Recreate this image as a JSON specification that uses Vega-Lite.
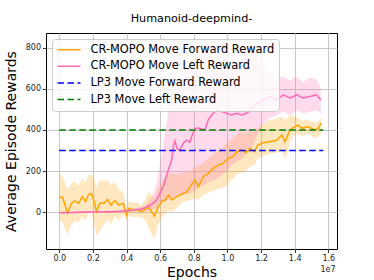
{
  "$schema": "https://vega.github.io/schema/vega-lite/v6.json",
  "autosize": {"type": "none"},
  "padding": {"left": 46, "top": 33, "right": 37, "bottom": 31},
  "width": 291,
  "height": 216,
  "background": "white",
  "config": {
    "font": "DejaVu Sans",
    "view": {"stroke": "#000000", "strokeWidth": 1},
    "axis": {
      "domain": false,
      "grid": true,
      "gridColor": "#c8c8c8",
      "gridWidth": 1,
      "tickColor": "#000000",
      "tickSize": 3.5,
      "tickWidth": 0.8,
      "labelFont": "DejaVu Sans",
      "labelFontSize": 8,
      "labelColor": "#222222",
      "titleFont": "DejaVu Sans",
      "titleFontSize": 14,
      "titleFontWeight": "normal",
      "titleColor": "#000000"
    }
  },
  "title": {
    "text": "Humanoid-deepmind-",
    "font": "DejaVu Sans",
    "fontSize": 11.2,
    "fontWeight": "normal",
    "color": "#000000",
    "offset": 9
  },
  "data": {
    "values": [
      {"series": "CR-MOPO Move Forward Reward", "x": 0, "mean": 73, "lo": -40, "hi": 190},
      {"series": "CR-MOPO Move Forward Reward", "x": 200000, "mean": 73, "lo": -50, "hi": 170},
      {"series": "CR-MOPO Move Forward Reward", "x": 490000, "mean": -5, "lo": -110, "hi": 110},
      {"series": "CR-MOPO Move Forward Reward", "x": 720000, "mean": 44, "lo": -60, "hi": 140},
      {"series": "CR-MOPO Move Forward Reward", "x": 920000, "mean": 56, "lo": -40, "hi": 150},
      {"series": "CR-MOPO Move Forward Reward", "x": 1150000, "mean": 44, "lo": -50, "hi": 130},
      {"series": "CR-MOPO Move Forward Reward", "x": 1360000, "mean": 76, "lo": -20, "hi": 165},
      {"series": "CR-MOPO Move Forward Reward", "x": 1560000, "mean": 52, "lo": -40, "hi": 140},
      {"series": "CR-MOPO Move Forward Reward", "x": 1720000, "mean": 84, "lo": -10, "hi": 180},
      {"series": "CR-MOPO Move Forward Reward", "x": 1910000, "mean": 92, "lo": 0, "hi": 185},
      {"series": "CR-MOPO Move Forward Reward", "x": 2060000, "mean": 57, "lo": -60, "hi": 170},
      {"series": "CR-MOPO Move Forward Reward", "x": 2210000, "mean": 3, "lo": -110, "hi": 120},
      {"series": "CR-MOPO Move Forward Reward", "x": 2410000, "mean": 44, "lo": -90, "hi": 160},
      {"series": "CR-MOPO Move Forward Reward", "x": 2670000, "mean": 44, "lo": -60, "hi": 150},
      {"series": "CR-MOPO Move Forward Reward", "x": 2870000, "mean": 63, "lo": -30, "hi": 160},
      {"series": "CR-MOPO Move Forward Reward", "x": 3070000, "mean": 35, "lo": -60, "hi": 130},
      {"series": "CR-MOPO Move Forward Reward", "x": 3310000, "mean": 57, "lo": -20, "hi": 150},
      {"series": "CR-MOPO Move Forward Reward", "x": 3550000, "mean": 35, "lo": -40, "hi": 110},
      {"series": "CR-MOPO Move Forward Reward", "x": 3800000, "mean": 44, "lo": -10, "hi": 100},
      {"series": "CR-MOPO Move Forward Reward", "x": 4000000, "mean": -13, "lo": -40, "hi": 20},
      {"series": "CR-MOPO Move Forward Reward", "x": 4140000, "mean": 19, "lo": -15, "hi": 55},
      {"series": "CR-MOPO Move Forward Reward", "x": 4400000, "mean": 11, "lo": -25, "hi": 45},
      {"series": "CR-MOPO Move Forward Reward", "x": 4660000, "mean": 14, "lo": -20, "hi": 50},
      {"series": "CR-MOPO Move Forward Reward", "x": 4860000, "mean": 3, "lo": -25, "hi": 30},
      {"series": "CR-MOPO Move Forward Reward", "x": 5090000, "mean": 14, "lo": -35, "hi": 60},
      {"series": "CR-MOPO Move Forward Reward", "x": 5330000, "mean": 24, "lo": -80, "hi": 100},
      {"series": "CR-MOPO Move Forward Reward", "x": 5650000, "mean": -18, "lo": -130, "hi": 70},
      {"series": "CR-MOPO Move Forward Reward", "x": 5880000, "mean": 25, "lo": -60, "hi": 120},
      {"series": "CR-MOPO Move Forward Reward", "x": 6120000, "mean": 55, "lo": -20, "hi": 150},
      {"series": "CR-MOPO Move Forward Reward", "x": 6300000, "mean": 60, "lo": -10, "hi": 170},
      {"series": "CR-MOPO Move Forward Reward", "x": 6480000, "mean": 84, "lo": 10, "hi": 190},
      {"series": "CR-MOPO Move Forward Reward", "x": 6680000, "mean": 60, "lo": 0, "hi": 190},
      {"series": "CR-MOPO Move Forward Reward", "x": 6980000, "mean": 76, "lo": 20, "hi": 185},
      {"series": "CR-MOPO Move Forward Reward", "x": 7200000, "mean": 85, "lo": 40, "hi": 190},
      {"series": "CR-MOPO Move Forward Reward", "x": 7370000, "mean": 92, "lo": 50, "hi": 195},
      {"series": "CR-MOPO Move Forward Reward", "x": 7600000, "mean": 100, "lo": 55, "hi": 195},
      {"series": "CR-MOPO Move Forward Reward", "x": 7770000, "mean": 124, "lo": 60, "hi": 200},
      {"series": "CR-MOPO Move Forward Reward", "x": 8070000, "mean": 157, "lo": 70, "hi": 220},
      {"series": "CR-MOPO Move Forward Reward", "x": 8270000, "mean": 124, "lo": 60, "hi": 225},
      {"series": "CR-MOPO Move Forward Reward", "x": 8560000, "mean": 173, "lo": 85, "hi": 240},
      {"series": "CR-MOPO Move Forward Reward", "x": 8860000, "mean": 189, "lo": 95, "hi": 260},
      {"series": "CR-MOPO Move Forward Reward", "x": 9150000, "mean": 214, "lo": 105, "hi": 280},
      {"series": "CR-MOPO Move Forward Reward", "x": 9450000, "mean": 230, "lo": 115, "hi": 300},
      {"series": "CR-MOPO Move Forward Reward", "x": 9750000, "mean": 238, "lo": 120, "hi": 320},
      {"series": "CR-MOPO Move Forward Reward", "x": 10050000, "mean": 262, "lo": 140, "hi": 345},
      {"series": "CR-MOPO Move Forward Reward", "x": 10340000, "mean": 271, "lo": 165, "hi": 360},
      {"series": "CR-MOPO Move Forward Reward", "x": 10580000, "mean": 295, "lo": 185, "hi": 380},
      {"series": "CR-MOPO Move Forward Reward", "x": 10850000, "mean": 303, "lo": 195, "hi": 390},
      {"series": "CR-MOPO Move Forward Reward", "x": 11100000, "mean": 290, "lo": 200, "hi": 385},
      {"series": "CR-MOPO Move Forward Reward", "x": 11340000, "mean": 311, "lo": 222, "hi": 395},
      {"series": "CR-MOPO Move Forward Reward", "x": 11600000, "mean": 294, "lo": 230, "hi": 390},
      {"series": "CR-MOPO Move Forward Reward", "x": 11800000, "mean": 327, "lo": 260, "hi": 410},
      {"series": "CR-MOPO Move Forward Reward", "x": 12130000, "mean": 338, "lo": 275, "hi": 430},
      {"series": "CR-MOPO Move Forward Reward", "x": 12530000, "mean": 343, "lo": 285, "hi": 450},
      {"series": "CR-MOPO Move Forward Reward", "x": 12930000, "mean": 351, "lo": 290, "hi": 455},
      {"series": "CR-MOPO Move Forward Reward", "x": 13230000, "mean": 376, "lo": 300, "hi": 465},
      {"series": "CR-MOPO Move Forward Reward", "x": 13420000, "mean": 343, "lo": 255, "hi": 450},
      {"series": "CR-MOPO Move Forward Reward", "x": 13720000, "mean": 400, "lo": 340, "hi": 470},
      {"series": "CR-MOPO Move Forward Reward", "x": 14020000, "mean": 416, "lo": 380, "hi": 465},
      {"series": "CR-MOPO Move Forward Reward", "x": 14200000, "mean": 424, "lo": 380, "hi": 460},
      {"series": "CR-MOPO Move Forward Reward", "x": 14420000, "mean": 408, "lo": 370, "hi": 445},
      {"series": "CR-MOPO Move Forward Reward", "x": 14800000, "mean": 416, "lo": 380, "hi": 450},
      {"series": "CR-MOPO Move Forward Reward", "x": 15000000, "mean": 408, "lo": 370, "hi": 440},
      {"series": "CR-MOPO Move Forward Reward", "x": 15200000, "mean": 400, "lo": 360, "hi": 435},
      {"series": "CR-MOPO Move Forward Reward", "x": 15400000, "mean": 408, "lo": 370, "hi": 440},
      {"series": "CR-MOPO Move Forward Reward", "x": 15570000, "mean": 433, "lo": 380, "hi": 460},

      {"series": "CR-MOPO Move Left Reward", "x": 0, "mean": -2, "lo": -6, "hi": 2},
      {"series": "CR-MOPO Move Left Reward", "x": 500000, "mean": -1, "lo": -5, "hi": 3},
      {"series": "CR-MOPO Move Left Reward", "x": 1000000, "mean": 0, "lo": -4, "hi": 4},
      {"series": "CR-MOPO Move Left Reward", "x": 1500000, "mean": 1, "lo": -3, "hi": 5},
      {"series": "CR-MOPO Move Left Reward", "x": 2000000, "mean": 2, "lo": -2, "hi": 6},
      {"series": "CR-MOPO Move Left Reward", "x": 2500000, "mean": 3, "lo": -1, "hi": 7},
      {"series": "CR-MOPO Move Left Reward", "x": 3000000, "mean": 3, "lo": -1, "hi": 8},
      {"series": "CR-MOPO Move Left Reward", "x": 3500000, "mean": 4, "lo": 0, "hi": 9},
      {"series": "CR-MOPO Move Left Reward", "x": 4000000, "mean": 8, "lo": 2, "hi": 14},
      {"series": "CR-MOPO Move Left Reward", "x": 4500000, "mean": 12, "lo": 4, "hi": 20},
      {"series": "CR-MOPO Move Left Reward", "x": 4800000, "mean": 15, "lo": 5, "hi": 26},
      {"series": "CR-MOPO Move Left Reward", "x": 5100000, "mean": 22, "lo": 8, "hi": 36},
      {"series": "CR-MOPO Move Left Reward", "x": 5400000, "mean": 35, "lo": 12, "hi": 60},
      {"series": "CR-MOPO Move Left Reward", "x": 5600000, "mean": 45, "lo": 15, "hi": 90},
      {"series": "CR-MOPO Move Left Reward", "x": 5780000, "mean": 58, "lo": 20, "hi": 140},
      {"series": "CR-MOPO Move Left Reward", "x": 6000000, "mean": 95, "lo": 40, "hi": 240},
      {"series": "CR-MOPO Move Left Reward", "x": 6180000, "mean": 124, "lo": 50, "hi": 330},
      {"series": "CR-MOPO Move Left Reward", "x": 6350000, "mean": 170, "lo": 55, "hi": 420},
      {"series": "CR-MOPO Move Left Reward", "x": 6480000, "mean": 205, "lo": 60, "hi": 480},
      {"series": "CR-MOPO Move Left Reward", "x": 6600000, "mean": 235, "lo": 65, "hi": 530},
      {"series": "CR-MOPO Move Left Reward", "x": 6680000, "mean": 254, "lo": 68, "hi": 560},
      {"series": "CR-MOPO Move Left Reward", "x": 6780000, "mean": 320, "lo": 72, "hi": 590},
      {"series": "CR-MOPO Move Left Reward", "x": 6880000, "mean": 347, "lo": 75, "hi": 610},
      {"series": "CR-MOPO Move Left Reward", "x": 7000000, "mean": 310, "lo": 78, "hi": 630},
      {"series": "CR-MOPO Move Left Reward", "x": 7170000, "mean": 302, "lo": 82, "hi": 650},
      {"series": "CR-MOPO Move Left Reward", "x": 7370000, "mean": 335, "lo": 86, "hi": 670},
      {"series": "CR-MOPO Move Left Reward", "x": 7570000, "mean": 351, "lo": 90, "hi": 700},
      {"series": "CR-MOPO Move Left Reward", "x": 7760000, "mean": 340, "lo": 93, "hi": 720},
      {"series": "CR-MOPO Move Left Reward", "x": 7870000, "mean": 367, "lo": 98, "hi": 735},
      {"series": "CR-MOPO Move Left Reward", "x": 8070000, "mean": 408, "lo": 105, "hi": 760},
      {"series": "CR-MOPO Move Left Reward", "x": 8360000, "mean": 408, "lo": 124, "hi": 785},
      {"series": "CR-MOPO Move Left Reward", "x": 8660000, "mean": 400, "lo": 137, "hi": 800},
      {"series": "CR-MOPO Move Left Reward", "x": 8860000, "mean": 449, "lo": 145, "hi": 790},
      {"series": "CR-MOPO Move Left Reward", "x": 9060000, "mean": 473, "lo": 152, "hi": 760},
      {"series": "CR-MOPO Move Left Reward", "x": 9360000, "mean": 498, "lo": 162, "hi": 730},
      {"series": "CR-MOPO Move Left Reward", "x": 9650000, "mean": 490, "lo": 180, "hi": 715},
      {"series": "CR-MOPO Move Left Reward", "x": 9950000, "mean": 481, "lo": 200, "hi": 705},
      {"series": "CR-MOPO Move Left Reward", "x": 10250000, "mean": 473, "lo": 228, "hi": 705},
      {"series": "CR-MOPO Move Left Reward", "x": 10550000, "mean": 481, "lo": 245, "hi": 720},
      {"series": "CR-MOPO Move Left Reward", "x": 10850000, "mean": 473, "lo": 262, "hi": 750},
      {"series": "CR-MOPO Move Left Reward", "x": 11140000, "mean": 481, "lo": 285, "hi": 790},
      {"series": "CR-MOPO Move Left Reward", "x": 11400000, "mean": 498, "lo": 305, "hi": 815},
      {"series": "CR-MOPO Move Left Reward", "x": 11740000, "mean": 530, "lo": 370, "hi": 770},
      {"series": "CR-MOPO Move Left Reward", "x": 12130000, "mean": 546, "lo": 430, "hi": 720},
      {"series": "CR-MOPO Move Left Reward", "x": 12530000, "mean": 563, "lo": 460, "hi": 675},
      {"series": "CR-MOPO Move Left Reward", "x": 12930000, "mean": 546, "lo": 470, "hi": 650},
      {"series": "CR-MOPO Move Left Reward", "x": 13320000, "mean": 571, "lo": 490, "hi": 660},
      {"series": "CR-MOPO Move Left Reward", "x": 13720000, "mean": 555, "lo": 470, "hi": 640},
      {"series": "CR-MOPO Move Left Reward", "x": 14120000, "mean": 571, "lo": 495, "hi": 660},
      {"series": "CR-MOPO Move Left Reward", "x": 14500000, "mean": 555, "lo": 480, "hi": 630},
      {"series": "CR-MOPO Move Left Reward", "x": 14910000, "mean": 563, "lo": 490, "hi": 655},
      {"series": "CR-MOPO Move Left Reward", "x": 15300000, "mean": 571, "lo": 495, "hi": 645},
      {"series": "CR-MOPO Move Left Reward", "x": 15550000, "mean": 546, "lo": 480, "hi": 600},

      {"series": "LP3 Move Forward Reward", "x": 0, "mean": 300},
      {"series": "LP3 Move Forward Reward", "x": 15700000, "mean": 300},
      {"series": "LP3 Move Left Reward", "x": 0, "mean": 400},
      {"series": "LP3 Move Left Reward", "x": 15700000, "mean": 400}
    ]
  },
  "resolve": {"axis": {"x": "independent"}},
  "layer": [
    {
      "transform": [{"filter": "isValid(datum.lo)"}],
      "mark": {"type": "area", "opacity": 0.25},
      "encoding": {
        "x": {
          "field": "x",
          "type": "quantitative",
          "scale": {"domain": [-790000, 16516000], "nice": false, "zero": false},
          "axis": {
            "orient": "bottom",
            "title": "Epochs",
            "values": [0, 2000000, 4000000, 6000000, 8000000, 10000000, 12000000, 14000000, 16000000],
            "labelExpr": "format(datum.value / 10000000, '.1f')",
            "labelPadding": 2,
            "titlePadding": 3
          }
        },
        "y": {
          "field": "lo",
          "type": "quantitative",
          "scale": {"domain": [-178, 871], "nice": false, "zero": false},
          "axis": {
            "title": "Average Episode Rewards",
            "values": [0, 200, 400, 600, 800],
            "labelPadding": 2,
            "titlePadding": 7
          }
        },
        "y2": {"field": "hi"},
        "fill": {
          "field": "series",
          "type": "nominal",
          "scale": {
            "domain": ["CR-MOPO Move Forward Reward", "CR-MOPO Move Left Reward"],
            "range": ["#FFA500", "#FF69B4"]
          },
          "legend": null
        }
      }
    },
    {
      "mark": {"type": "line", "clip": true},
      "encoding": {
        "x": {
          "field": "x",
          "type": "quantitative",
          "axis": {
            "orient": "bottom",
            "title": "1e7",
            "labels": false,
            "ticks": false,
            "grid": false,
            "domain": false,
            "titleFontSize": 8,
            "titleFontWeight": "normal",
            "titleColor": "#222222",
            "titleAnchor": "end",
            "titleAlign": "right",
            "titleBaseline": "top",
            "titleX": 289,
            "titleY": 16
          }
        },
        "y": {"field": "mean", "type": "quantitative"},
        "color": {
          "field": "series",
          "type": "nominal",
          "sort": null,
          "scale": {
            "domain": ["CR-MOPO Move Forward Reward", "CR-MOPO Move Left Reward", "LP3 Move Forward Reward", "LP3 Move Left Reward"],
            "range": ["#FFA500", "#FF69B4", "#0000FF", "#008000"]
          },
          "legend": {
            "title": null,
            "orient": "none",
            "legendX": 6,
            "legendY": 6,
            "symbolType": "stroke",
            "symbolSize": 530,
            "symbolStrokeWidth": 2,
            "labelFont": "DejaVu Sans",
            "labelFontSize": 11.4,
            "labelColor": "#000000",
            "labelOffset": 9,
            "labelLimit": 300,
            "rowPadding": 3.6,
            "clipHeight": 12.5,
            "padding": 4.5,
            "fillColor": "rgba(255,255,255,0.8)",
            "strokeColor": "#cccccc",
            "cornerRadius": 3
          }
        },
        "strokeDash": {
          "field": "series",
          "type": "nominal",
          "sort": null,
          "scale": {
            "domain": ["CR-MOPO Move Forward Reward", "CR-MOPO Move Left Reward", "LP3 Move Forward Reward", "LP3 Move Left Reward"],
            "range": [[1, 0], [1, 0], [6.5, 3.5], [6.5, 3.5]]
          },
          "legend": {"title": null}
        },
        "strokeWidth": {
          "field": "series",
          "type": "nominal",
          "sort": null,
          "scale": {
            "domain": ["CR-MOPO Move Forward Reward", "CR-MOPO Move Left Reward", "LP3 Move Forward Reward", "LP3 Move Left Reward"],
            "range": [1.5, 1.5, 2.5, 2.5]
          },
          "legend": {"title": null}
        }
      }
    }
  ]
}
